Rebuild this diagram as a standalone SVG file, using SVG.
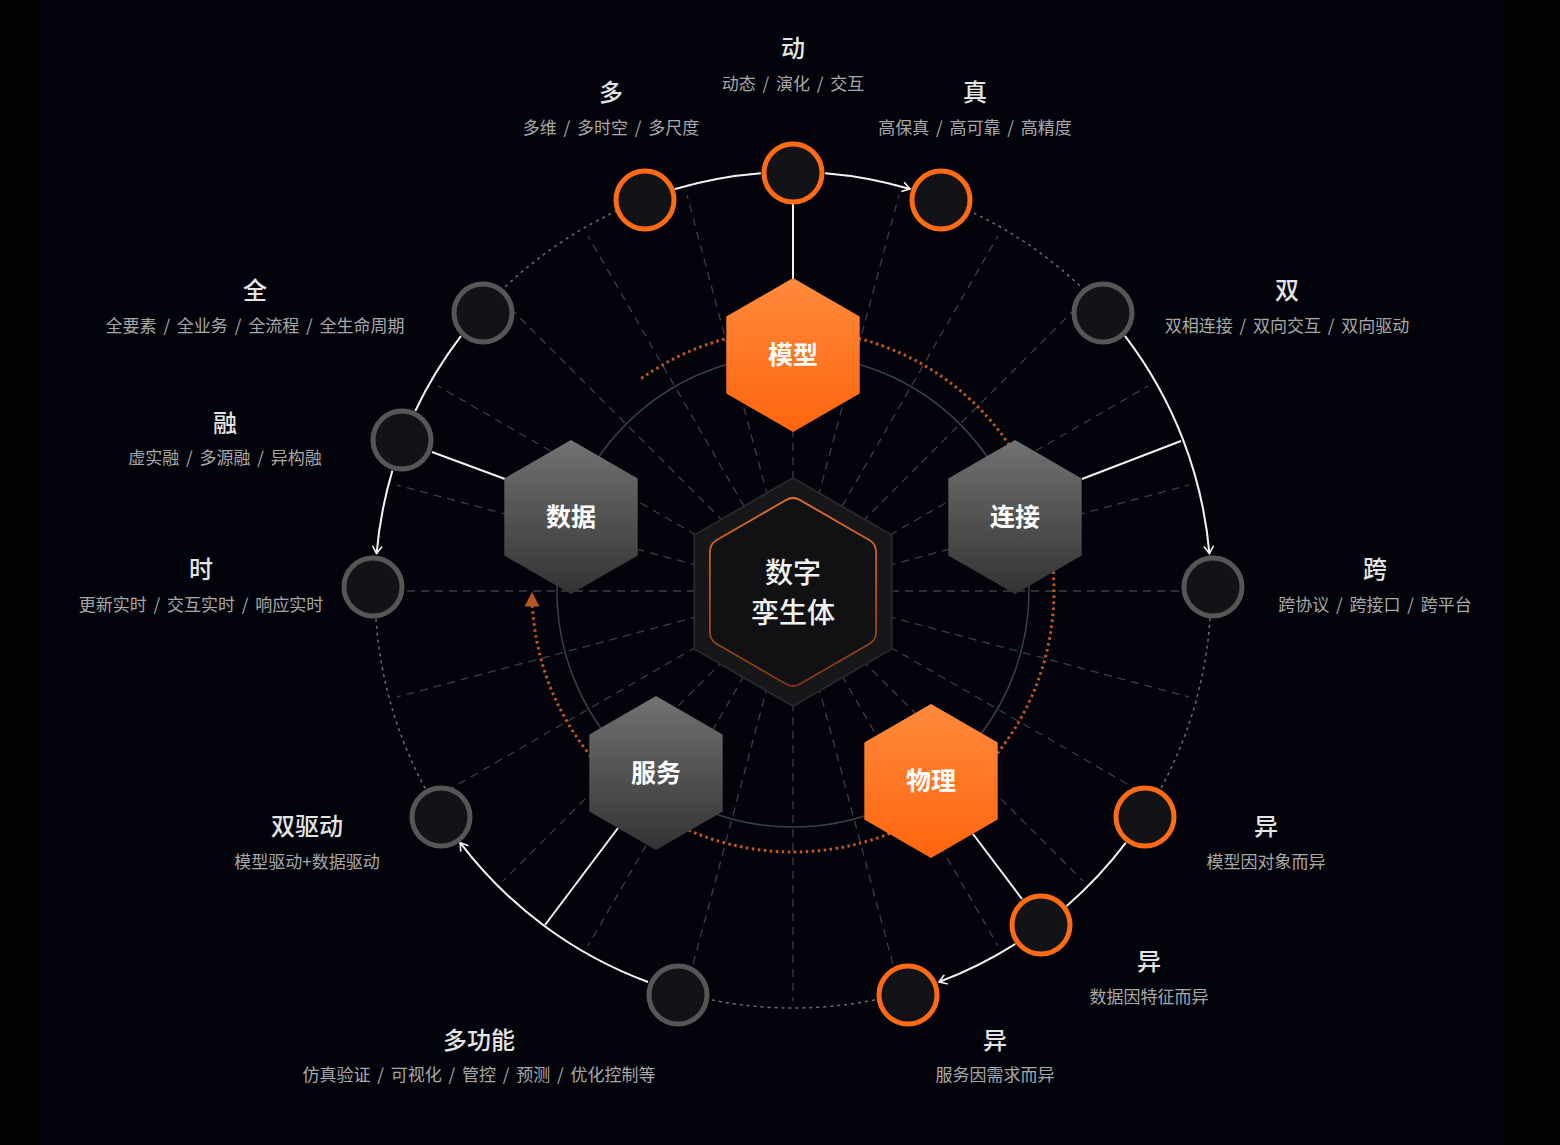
<svg xmlns="http://www.w3.org/2000/svg" width="1560" height="1145" viewBox="0 0 1560 1145">
<defs>
<style>
.title{font-family:"Noto Sans CJK SC","Noto Sans",sans-serif;font-size:24px;font-weight:500;fill:#e4e4e4;text-anchor:middle}
.sub{font-family:"Noto Sans CJK SC","Noto Sans",sans-serif;font-size:17px;fill:#a8a8a8;text-anchor:middle;word-spacing:3px}
.hexlabel{font-family:"Noto Sans CJK SC","Noto Sans",sans-serif;font-size:25px;font-weight:700;fill:#ffffff;text-anchor:middle}
.core{font-family:"Noto Sans CJK SC","Noto Sans",sans-serif;font-size:28px;font-weight:500;fill:#f2f2f2;text-anchor:middle}
.radial{stroke:#3b3e47;stroke-width:1.3;stroke-dasharray:8 6;fill:none}
.ring-o{fill:#111317;stroke:#ff6a14;stroke-width:5}
.ring-g{fill:#111317;stroke:#565656;stroke-width:5}
.flow{fill:none;stroke:#f2f2f2;stroke-width:2}
.link{stroke:#f2f2f2;stroke-width:2}
</style>
<linearGradient id="gOrange" x1="0" y1="0" x2="0" y2="1">
<stop offset="0" stop-color="#ff8a3c"/>
<stop offset="1" stop-color="#ff650e"/>
</linearGradient>
<linearGradient id="gGray" x1="0" y1="0" x2="0" y2="1">
<stop offset="0" stop-color="#727272"/>
<stop offset="1" stop-color="#333333"/>
</linearGradient>
<linearGradient id="gCore" gradientUnits="userSpaceOnUse" x1="0" y1="496" x2="0" y2="688">
<stop offset="0" stop-color="#e8702a"/>
<stop offset="1" stop-color="#7a3512"/>
</linearGradient>
<marker id="arr" viewBox="-10 -6 12 12" markerWidth="12" markerHeight="12" refX="0" refY="0" orient="auto" markerUnits="userSpaceOnUse">
<path d="M-7,-4.5 L0,0 L-7,4.5" fill="none" stroke="#f2f2f2" stroke-width="1.6" stroke-linecap="round" stroke-linejoin="round"/>
</marker>
</defs>

<rect x="0" y="0" width="1560" height="1145" fill="#010303"/>
<rect x="41" y="0" width="1462" height="1145" fill="#03040b"/>

<g id="grid">
<path class="radial" d="M793,591 L1203,591 M793,591 L1189,697 M793,591 L1148,796 M793,591 L1083,881 M793,591 L998,946 M793,591 L899,987 M793,591 L793,1001 M793,591 L687,987 M793,591 L588,946 M793,591 L503,881 M793,591 L438,796 M793,591 L397,697 M793,591 L383,591 M793,591 L397,485 M793,591 L438,386 M793,591 L503,301 M793,591 L588,236 M793,591 L687,195 M793,591 L793,181 M793,591 L899,195 M793,591 L998,236 M793,591 L1083,301 M793,591 L1148,386 M793,591 L1189,485"/>
<circle cx="793" cy="590" r="418" fill="none" stroke="#6a6d76" stroke-width="1.5" stroke-dasharray="3 4"/>
<circle cx="793" cy="591" r="236" fill="none" stroke="#3c3f48" stroke-width="1.5"/>
<path d="M641.4,378.5 A261,261 0 1 1 532.4,606" fill="none" stroke="#c2581f" stroke-width="3" stroke-dasharray="2.5 3.5"/>
<polygon points="532,592 524.5,606.5 539.5,606.5" fill="#b9561f"/>
</g>

<g id="connectors">
<path class="flow" d="M675,189 A418,418 0 0 1 760.9,173.2"/>
<path class="flow" d="M825.1,173.2 A418,418 0 0 1 910,189" marker-end="url(#arr)"/>
<path class="flow" d="M460.9,336.1 A418,418 0 0 0 415.4,410.7"/>
<path class="flow" d="M392.4,470.6 A418,418 0 0 0 376.6,553.6" marker-end="url(#arr)"/>
<path class="flow" d="M1125.1,336.1 A418,418 0 0 1 1209.4,553.6" marker-end="url(#arr)"/>
<path class="flow" d="M648,982 A418,418 0 0 1 460.1,842.7" marker-end="url(#arr)"/>
<path class="flow" d="M1125.9,842.7 A418,418 0 0 1 1066.7,906"/>
<path class="flow" d="M1015.1,944.1 A418,418 0 0 1 939,982" marker-end="url(#arr)"/>
<line class="link" x1="793" y1="204" x2="793" y2="279"/>
<line class="link" x1="432" y1="452" x2="505" y2="479"/>
<line class="link" x1="1082" y1="479" x2="1181" y2="441"/>
<line class="link" x1="618" y1="828" x2="545" y2="925"/>
<line class="link" x1="973" y1="834" x2="1022" y2="899"/>
</g>

<g id="core">
<polygon points="793,478 891.7,535 891.7,649 793,706 694.3,649 694.3,535" fill="#17171a" stroke="#26272b" stroke-width="2"/>
<path d="M799.93,500 L869.17,540 Q876.1,544 876.1,552 L876.1,632 Q876.1,640 869.17,644 L799.93,684 Q793,688 786.07,684 L716.83,644 Q709.9,640 709.9,632 L709.9,552 Q709.9,544 716.83,540 L786.07,500 Q793,496 799.93,500 Z" fill="#111114" stroke="url(#gCore)" stroke-width="1.8"/>
<text class="core" x="793" y="583">数字</text>
<text class="core" x="793" y="623">孪生体</text>
</g>

<g id="hex-model" transform="translate(793,355)">
<polygon points="0,-77 66.7,-38.5 66.7,38.5 0,77 -66.7,38.5 -66.7,-38.5" fill="url(#gOrange)"/>
<text class="hexlabel" x="0" y="9">模型</text>
</g>
<g id="hex-data" transform="translate(571,517)">
<polygon points="0,-77 66.7,-38.5 66.7,38.5 0,77 -66.7,38.5 -66.7,-38.5" fill="url(#gGray)"/>
<text class="hexlabel" x="0" y="9">数据</text>
</g>
<g id="hex-link" transform="translate(1015,517)">
<polygon points="0,-77 66.7,-38.5 66.7,38.5 0,77 -66.7,38.5 -66.7,-38.5" fill="url(#gGray)"/>
<text class="hexlabel" x="0" y="9">连接</text>
</g>
<g id="hex-service" transform="translate(656,773)">
<polygon points="0,-77 66.7,-38.5 66.7,38.5 0,77 -66.7,38.5 -66.7,-38.5" fill="url(#gGray)"/>
<text class="hexlabel" x="0" y="9">服务</text>
</g>
<g id="hex-physics" transform="translate(931,781)">
<polygon points="0,-77 66.7,-38.5 66.7,38.5 0,77 -66.7,38.5 -66.7,-38.5" fill="url(#gOrange)"/>
<text class="hexlabel" x="0" y="9">物理</text>
</g>

<g id="node-dong"><circle class="ring-o" cx="793" cy="173" r="29"/>
<text class="title" x="793" y="57">动</text><text class="sub" x="793" y="90">动态 / 演化 / 交互</text></g>
<g id="node-duo"><circle class="ring-o" cx="645" cy="200" r="29"/>
<text class="title" x="611" y="101">多</text><text class="sub" x="611" y="134">多维 / 多时空 / 多尺度</text></g>
<g id="node-zhen"><circle class="ring-o" cx="941" cy="200" r="29"/>
<text class="title" x="975" y="101">真</text><text class="sub" x="975" y="134">高保真 / 高可靠 / 高精度</text></g>
<g id="node-quan"><circle class="ring-g" cx="483" cy="313" r="29"/>
<text class="title" x="255" y="299">全</text><text class="sub" x="255" y="332">全要素 / 全业务 / 全流程 / 全生命周期</text></g>
<g id="node-shuang"><circle class="ring-g" cx="1103" cy="313" r="29"/>
<text class="title" x="1287" y="299">双</text><text class="sub" x="1287" y="332">双相连接 / 双向交互 / 双向驱动</text></g>
<g id="node-rong"><circle class="ring-g" cx="402" cy="440" r="29"/>
<text class="title" x="225" y="432">融</text><text class="sub" x="225" y="464">虚实融 / 多源融 / 异构融</text></g>
<g id="node-shi"><circle class="ring-g" cx="373" cy="587" r="29"/>
<text class="title" x="201" y="578">时</text><text class="sub" x="201" y="611">更新实时 / 交互实时 / 响应实时</text></g>
<g id="node-kua"><circle class="ring-g" cx="1213" cy="587" r="29"/>
<text class="title" x="1375" y="578">跨</text><text class="sub" x="1375" y="611">跨协议 / 跨接口 / 跨平台</text></g>
<g id="node-shuangqudong"><circle class="ring-g" cx="441" cy="817" r="29"/>
<text class="title" x="307" y="835">双驱动</text><text class="sub" x="307" y="868">模型驱动+数据驱动</text></g>
<g id="node-yi-model"><circle class="ring-o" cx="1145" cy="817" r="29"/>
<text class="title" x="1266" y="835">异</text><text class="sub" x="1266" y="868">模型因对象而异</text></g>
<g id="node-yi-data"><circle class="ring-o" cx="1041" cy="925" r="29"/>
<text class="title" x="1149" y="970">异</text><text class="sub" x="1149" y="1003">数据因特征而异</text></g>
<g id="node-duogongneng"><circle class="ring-g" cx="678" cy="995" r="29"/>
<text class="title" x="479" y="1049">多功能</text><text class="sub" x="479" y="1081">仿真验证 / 可视化 / 管控 / 预测 / 优化控制等</text></g>
<g id="node-yi-service"><circle class="ring-o" cx="908" cy="995" r="29"/>
<text class="title" x="995" y="1049">异</text><text class="sub" x="995" y="1081">服务因需求而异</text></g>
</svg>
